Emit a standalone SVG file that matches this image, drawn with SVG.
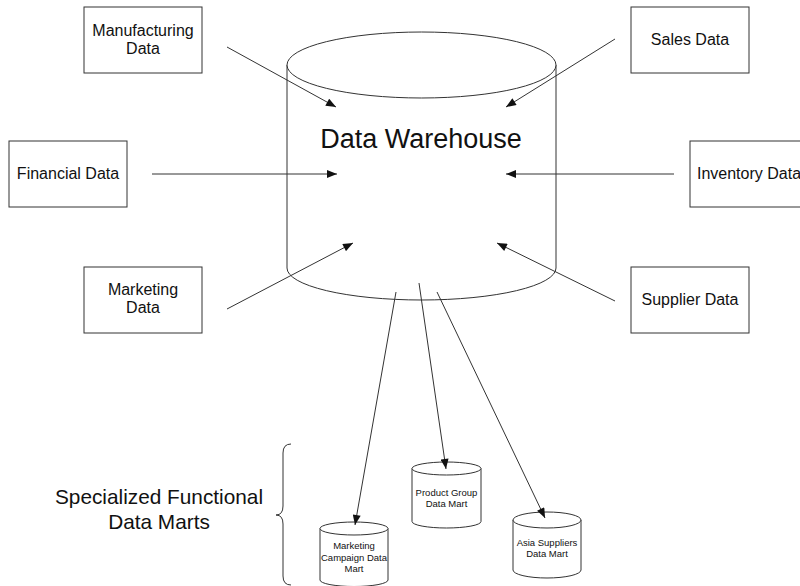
<svg xmlns="http://www.w3.org/2000/svg" width="800" height="586" viewBox="0 0 800 586">
<style>
.box{fill:#fff;stroke:#333;stroke-width:1}
.cyl{fill:#fff;stroke:#333;stroke-width:1}
.ln{fill:none;stroke:#333;stroke-width:1}
text{font-family:"Liberation Sans",Arial,sans-serif;fill:#111;text-anchor:middle}
.t16{font-size:16px}
.t9{font-size:9.5px}
</style>
<defs>
<marker id="ah" viewBox="0 0 10 8" refX="10" refY="4" markerWidth="11" markerHeight="8" markerUnits="userSpaceOnUse" orient="auto">
<path d="M0,0 L10,4 L0,8 Z" fill="#111"/>
</marker>
</defs>
<rect width="800" height="586" fill="#fff"/>

<g id="warehouse">
<path class="cyl" d="M287,65 L287,268 A134.5,32 0 0 0 556,268 L556,65"/>
<ellipse class="cyl" cx="421.5" cy="65" rx="134.5" ry="33"/>
<text x="421" y="148" style="font-size:27px">Data Warehouse</text>
</g>

<g id="manufacturing">
<rect class="box" x="84" y="7" width="118" height="66"/>
<text class="t16" x="143" y="36">Manufacturing</text>
<text class="t16" x="143" y="54">Data</text>
</g>
<g id="financial">
<rect class="box" x="9" y="141" width="118" height="66"/>
<text class="t16" x="68" y="179">Financial Data</text>
</g>
<g id="marketing">
<rect class="box" x="84" y="267" width="118" height="66"/>
<text class="t16" x="143" y="295">Marketing</text>
<text class="t16" x="143" y="313">Data</text>
</g>
<g id="sales">
<rect class="box" x="631" y="7" width="118" height="66"/>
<text class="t16" x="690" y="45">Sales Data</text>
</g>
<g id="inventory">
<rect class="box" x="690" y="141" width="118" height="66"/>
<text class="t16" x="749" y="179">Inventory Data</text>
</g>
<g id="supplier">
<rect class="box" x="631" y="267" width="118" height="66"/>
<text class="t16" x="690" y="305">Supplier Data</text>
</g>

<g id="product-group-mart">
<path class="cyl" d="M412,468.5 L412,521.5 A34.5,6.5 0 0 0 481,521.5 L481,468.5"/>
<ellipse class="cyl" cx="446.5" cy="468.5" rx="34.5" ry="6.5"/>
<text class="t9" x="446.5" y="496">Product Group</text>
<text class="t9" x="446.5" y="507">Data Mart</text>
</g>
<g id="marketing-campaign-mart">
<path class="cyl" d="M320,528.5 L320,580 A34,6.5 0 0 0 388,580 L388,528.5"/>
<ellipse class="cyl" cx="354" cy="528.5" rx="34" ry="6.5"/>
<text class="t9" x="354" y="549">Marketing</text>
<text class="t9" x="354" y="561">Campaign Data</text>
<text class="t9" x="354" y="572">Mart</text>
</g>
<g id="asia-suppliers-mart">
<path class="cyl" d="M513,520 L513,570 A34,8 0 0 0 581,570 L581,520"/>
<ellipse class="cyl" cx="547" cy="520" rx="34" ry="8"/>
<text class="t9" x="547" y="546">Asia Suppliers</text>
<text class="t9" x="547" y="557">Data Mart</text>
</g>

<g id="label-marts">
<path class="ln" d="M291,444 Q283,444 283,453 L283,506 Q283,515 276,515 Q283,515 283,524 L283,576 Q283,585 291,585"/>
<text x="159" y="504" style="font-size:20.8px">Specialized Functional</text>
<text x="159" y="529" style="font-size:20.8px">Data Marts</text>
</g>

<g id="connectors">
<line class="ln" x1="227" y1="47" x2="336" y2="107" marker-end="url(#ah)"/>
<line class="ln" x1="152" y1="174" x2="337" y2="174" marker-end="url(#ah)"/>
<line class="ln" x1="227" y1="309" x2="353" y2="243" marker-end="url(#ah)"/>
<line class="ln" x1="615" y1="39" x2="506" y2="107" marker-end="url(#ah)"/>
<line class="ln" x1="674" y1="174" x2="506" y2="174" marker-end="url(#ah)"/>
<line class="ln" x1="615" y1="301" x2="497" y2="243" marker-end="url(#ah)"/>
<line class="ln" x1="396" y1="292" x2="355" y2="525" marker-end="url(#ah)"/>
<line class="ln" x1="419" y1="283" x2="446" y2="469" marker-end="url(#ah)"/>
<line class="ln" x1="437" y1="292" x2="545" y2="518" marker-end="url(#ah)"/>
</g>
</svg>
